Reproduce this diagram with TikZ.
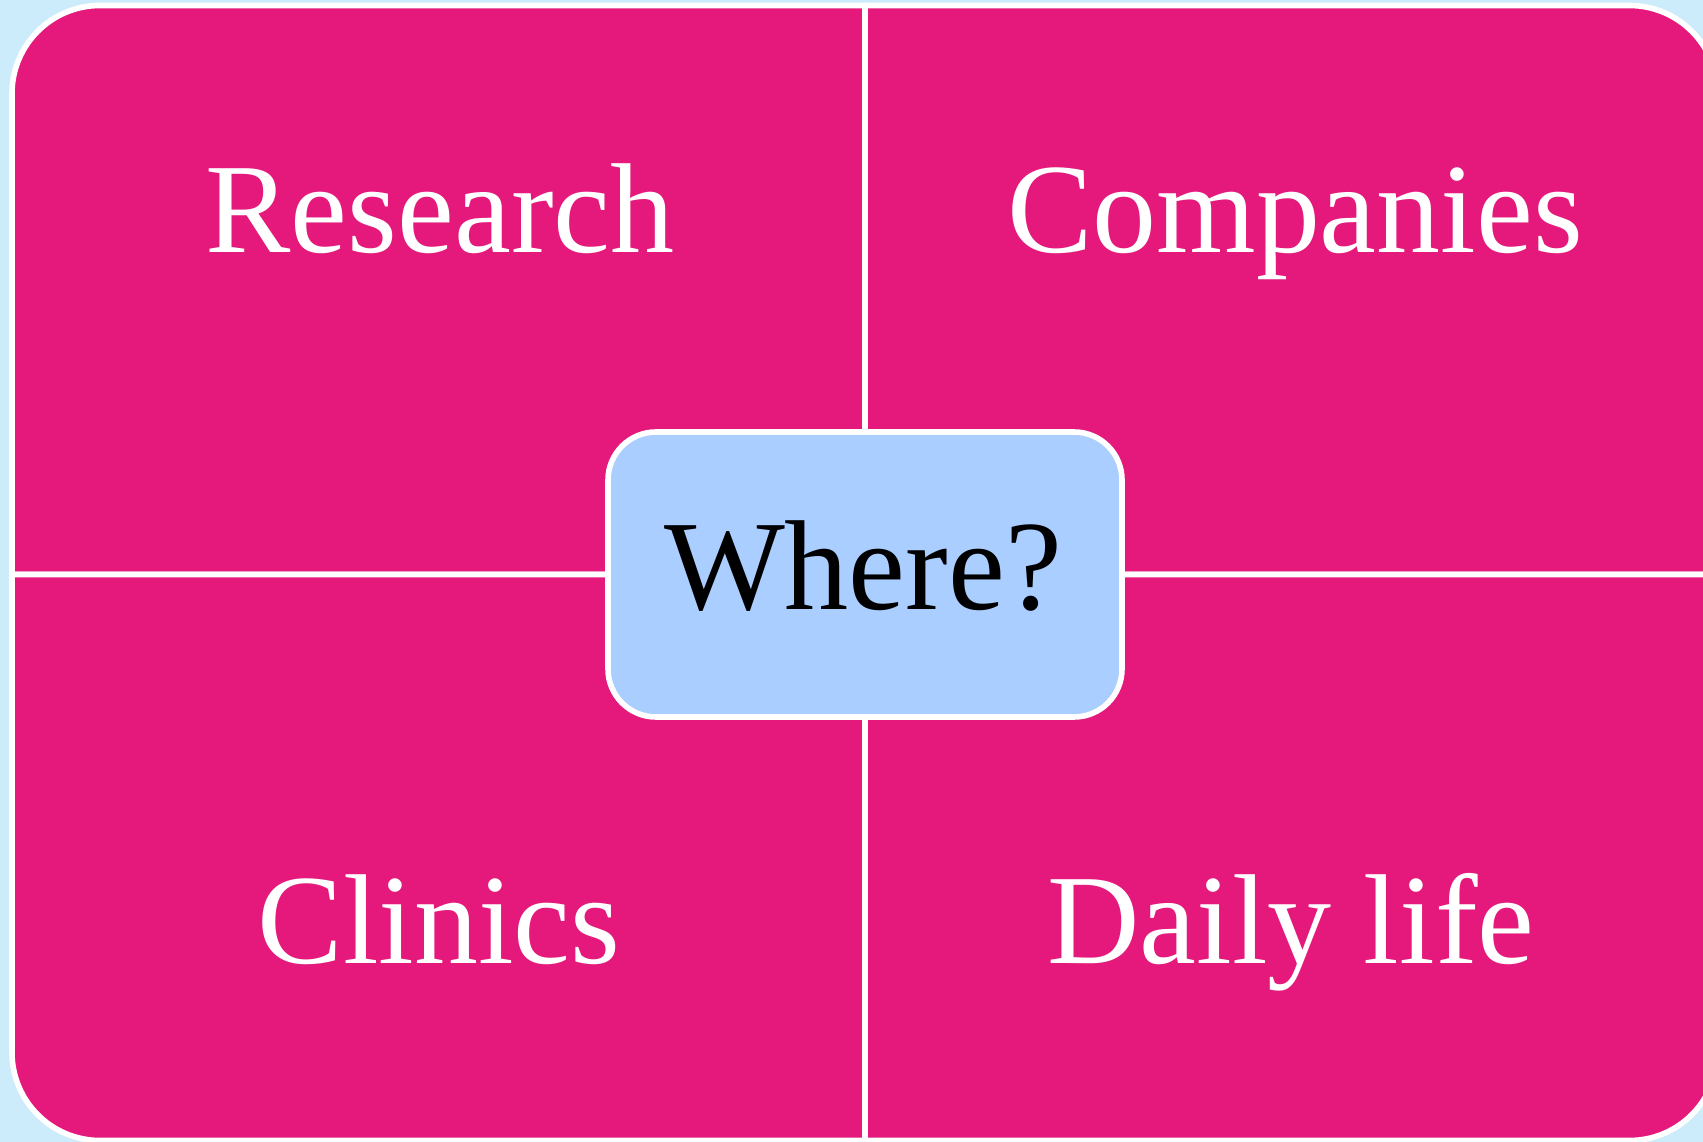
\documentclass[tikz,border=0pt]{standalone}
\usepackage{fontspec}
\setmainfont{Liberation Serif}
\definecolor{bgblue}{HTML}{CCECFC}
\definecolor{quadpink}{HTML}{E4197B}
\definecolor{centerblue}{HTML}{AACEFF}
\begin{document}
\begin{tikzpicture}[x=0.25pt,y=-0.25pt,
  quad/.style={fill=quadpink,draw=white,line width=1.4pt},
  lbl/.style={text=white,font=\fontsize{32}{38}\selectfont,anchor=base,inner sep=0pt},
  hubbox/.style={draw=white,fill=centerblue,line width=1.4pt,rounded corners=12pt,minimum width=128.5pt,minimum height=71.25pt,inner sep=0pt}]
\useasboundingbox (0,0) rectangle (1703,1142);
\clip (0,0) rectangle (1703,1142);
\fill[bgblue] (0,0) rectangle (1703,1142);
% quadrants
\path[quad] (865,574.5) -- (12,574.5) -- (12,93.5) .. controls (12,44.9) and (51.4,5.5) .. (100,5.5) -- (865,5.5) -- cycle;
\path[quad] (865,574.5) -- (865,5.5) -- (1629.5,5.5) .. controls (1678.1,5.5) and (1717.5,44.9) .. (1717.5,93.5) -- (1717.5,574.5) -- cycle;
\path[quad] (865,574.5) -- (12,574.5) -- (12,1052.5) .. controls (12,1101.1) and (51.4,1140.5) .. (100,1140.5) -- (865,1140.5) -- cycle;
\path[quad] (865,574.5) -- (1717.5,574.5) -- (1717.5,1052.5) .. controls (1717.5,1101.1) and (1678.1,1140.5) .. (1629.5,1140.5) -- (865,1140.5) -- cycle;
% labels
\node[lbl] (research) at (440,253) {Research};
\node[lbl] (companies) at (1295,253) {Companies};
\node[lbl] (clinics) at (439,963) {Clinics};
\node[lbl] (daily) at (1291,963) {Daily life};
% hub
\node[hubbox] (hub) at (865,574.5) {};
\node[lbl,text=black] (hublabel) at (863,610) {Where?};
\end{tikzpicture}
\end{document}
